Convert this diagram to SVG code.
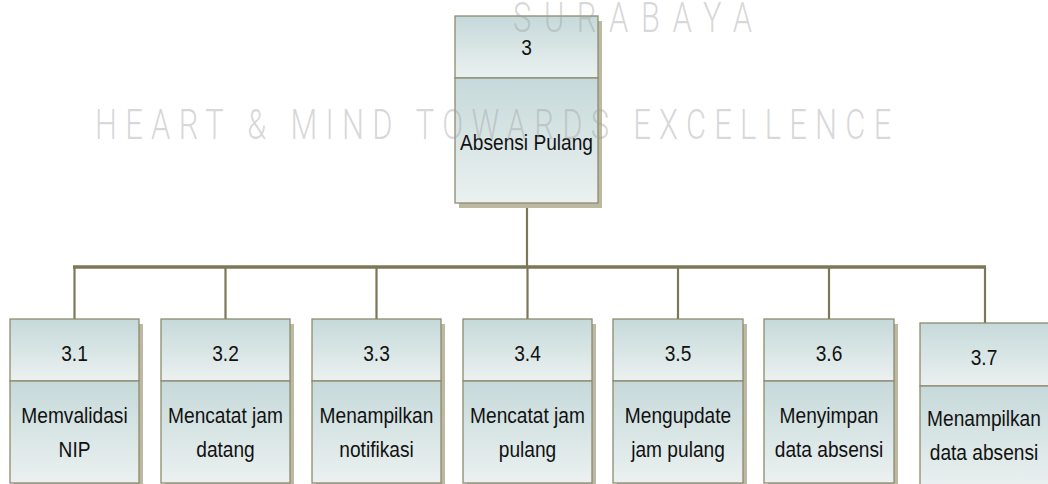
<svg xmlns="http://www.w3.org/2000/svg" width="1048" height="484" viewBox="0 0 1048 484">
  <style>
    .shadow { fill: #bcb8a2; }
    .cell { fill: url(#cellFill); stroke: #8d8b6f; stroke-width: 1.3; }
    .label { font-family: "Liberation Sans", Arial, sans-serif; font-size: 22px; fill: #111; text-anchor: middle; }
    .wire { stroke: #7b7757; fill: none; }
    .mark { font-family: Roboto, "Liberation Sans", sans-serif; font-weight: 300; font-size: 43px; fill: #a0a0a0; fill-opacity: 0.42; }
  </style>
  <defs>
    <linearGradient id="cellFill" x1="0" y1="0" x2="0" y2="1">
      <stop offset="0" stop-color="#c6d9da"/>
      <stop offset="1" stop-color="#ebf1f0"/>
    </linearGradient>
  </defs>

  <rect width="1048" height="484" fill="#ffffff"/>

  <!-- connectors -->
  <g id="connectors" class="wire">
    <line x1="527" y1="203" x2="527" y2="267" stroke-width="2.2"/>
    <line x1="73" y1="267" x2="986" y2="267" stroke-width="3.5"/>
    <line x1="74.5" y1="267" x2="74.5" y2="319" stroke-width="2.2"/>
    <line x1="225.5" y1="267" x2="225.5" y2="319" stroke-width="2.2"/>
    <line x1="376.5" y1="267" x2="376.5" y2="319" stroke-width="2.2"/>
    <line x1="527.5" y1="267" x2="527.5" y2="319" stroke-width="2.2"/>
    <line x1="678" y1="267" x2="678" y2="319" stroke-width="2.2"/>
    <line x1="829" y1="267" x2="829" y2="319" stroke-width="2.2"/>
    <line x1="985" y1="267" x2="985" y2="323" stroke-width="2.2"/>
  </g>

  <!-- root process -->
  <g id="node-3">
    <rect class="shadow" x="459" y="21" width="143" height="187"/>
    <rect class="cell" x="455" y="16" width="143" height="62"/>
    <rect class="cell" x="455" y="78" width="143" height="125"/>
    <text class="label" transform="translate(526.5,55) scale(0.87,1)">3</text>
    <text class="label" transform="translate(526.5,150) scale(0.87,1)">Absensi Pulang</text>
  </g>

  <!-- sub-processes -->
  <g id="node-3-1">
    <rect class="shadow" x="14" y="324" width="129" height="164"/>
    <rect class="cell" x="10" y="319" width="129" height="62"/>
    <rect class="cell" x="10" y="381" width="129" height="102"/>
    <text class="label" transform="translate(74.5,361) scale(0.87,1)">3.1</text>
    <text class="label" transform="translate(74.5,423) scale(0.87,1)">Memvalidasi</text>
    <text class="label" transform="translate(74.5,457) scale(0.87,1)">NIP</text>
  </g>
  <g id="node-3-2">
    <rect class="shadow" x="165" y="324" width="129" height="164"/>
    <rect class="cell" x="161" y="319" width="129" height="62"/>
    <rect class="cell" x="161" y="381" width="129" height="102"/>
    <text class="label" transform="translate(225.5,361) scale(0.87,1)">3.2</text>
    <text class="label" transform="translate(225.5,423) scale(0.87,1)">Mencatat jam</text>
    <text class="label" transform="translate(225.5,457) scale(0.87,1)">datang</text>
  </g>
  <g id="node-3-3">
    <rect class="shadow" x="316" y="324" width="129" height="164"/>
    <rect class="cell" x="312" y="319" width="129" height="62"/>
    <rect class="cell" x="312" y="381" width="129" height="102"/>
    <text class="label" transform="translate(376.5,361) scale(0.87,1)">3.3</text>
    <text class="label" transform="translate(376.5,423) scale(0.87,1)">Menampilkan</text>
    <text class="label" transform="translate(376.5,457) scale(0.87,1)">notifikasi</text>
  </g>
  <g id="node-3-4">
    <rect class="shadow" x="467" y="324" width="129" height="164"/>
    <rect class="cell" x="463" y="319" width="129" height="62"/>
    <rect class="cell" x="463" y="381" width="129" height="102"/>
    <text class="label" transform="translate(527.5,361) scale(0.87,1)">3.4</text>
    <text class="label" transform="translate(527.5,423) scale(0.87,1)">Mencatat jam</text>
    <text class="label" transform="translate(527.5,457) scale(0.87,1)">pulang</text>
  </g>
  <g id="node-3-5">
    <rect class="shadow" x="617" y="324" width="130" height="164"/>
    <rect class="cell" x="613" y="319" width="130" height="62"/>
    <rect class="cell" x="613" y="381" width="130" height="102"/>
    <text class="label" transform="translate(678,361) scale(0.87,1)">3.5</text>
    <text class="label" transform="translate(678,423) scale(0.87,1)">Mengupdate</text>
    <text class="label" transform="translate(678,457) scale(0.87,1)">jam pulang</text>
  </g>
  <g id="node-3-6">
    <rect class="shadow" x="768" y="324" width="130" height="164"/>
    <rect class="cell" x="764" y="319" width="130" height="62"/>
    <rect class="cell" x="764" y="381" width="130" height="102"/>
    <text class="label" transform="translate(829,361) scale(0.87,1)">3.6</text>
    <text class="label" transform="translate(829,423) scale(0.87,1)">Menyimpan</text>
    <text class="label" transform="translate(829,457) scale(0.87,1)">data absensi</text>
  </g>
  <g id="node-3-7">
    <rect class="shadow" x="924" y="328" width="130" height="164"/>
    <rect class="cell" x="920" y="323" width="130" height="63"/>
    <rect class="cell" x="920" y="386" width="130" height="104"/>
    <text class="label" transform="translate(984,365) scale(0.87,1)">3.7</text>
    <text class="label" transform="translate(984,426) scale(0.87,1)">Menampilkan</text>
    <text class="label" transform="translate(984,460) scale(0.87,1)">data absensi</text>
  </g>

  <!-- light lettering over the chart -->
  <g id="watermark">
    <text class="mark" transform="translate(513,32) scale(0.72,1)" textLength="332" lengthAdjust="spacing">SURABAYA</text>
    <text class="mark" transform="translate(95,139) scale(0.72,1)" textLength="1106" lengthAdjust="spacing">HEART &amp; MIND TOWARDS EXCELLENCE</text>
  </g>
</svg>
